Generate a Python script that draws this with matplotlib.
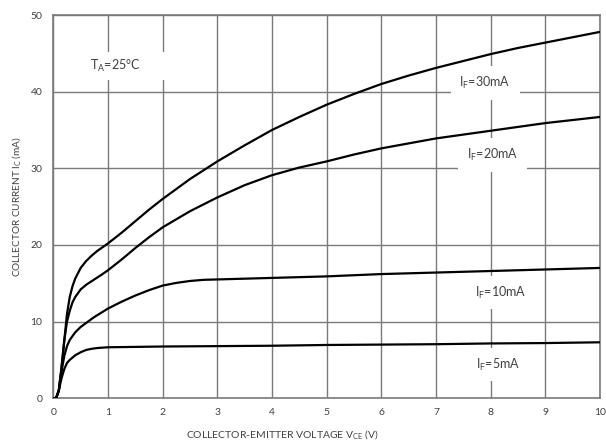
import matplotlib
matplotlib.use("Agg")
import matplotlib.pyplot as plt
from matplotlib.patches import Rectangle

plt.rcParams['font.family'] = ['Lato', 'DejaVu Sans']
plt.rcParams['mathtext.default'] = 'regular'

# collector current curves (V_CE in V, I_C in mA)
v_30 = [0, 0.05, 0.1, 0.15, 0.2, 0.25, 0.3, 0.35, 0.4, 0.5, 0.6, 0.7, 0.8, 0.9, 1.0,
        1.25, 1.5, 1.75, 2.0, 2.5, 3.0, 3.5, 4.0, 4.5, 5.0, 5.5, 6.0, 6.5, 7.0, 7.5,
        8.0, 8.5, 9.0, 9.5, 10.0]
i_30 = [0, 0, 1.0, 4.0, 7.5, 11.0, 13.2, 14.6, 15.6, 17.0, 17.9, 18.6, 19.2, 19.7, 20.2,
        21.6, 23.1, 24.6, 26.0, 28.6, 30.9, 33.0, 35.0, 36.7, 38.3, 39.7, 41.0, 42.1, 43.1, 44.0,
        44.9, 45.7, 46.4, 47.1, 47.8]

v_20 = [0, 0.05, 0.1, 0.15, 0.2, 0.25, 0.3, 0.35, 0.4, 0.5, 0.6, 0.75, 0.9, 1.0, 1.25,
        1.5, 1.75, 2.0, 2.5, 3.0, 3.5, 4.0, 4.5, 5.0, 5.5, 6.0, 7.0, 8.0, 9.0, 10.0]
i_20 = [0, 0, 1.0, 4.0, 7.5, 10.0, 11.4, 12.5, 13.2, 14.2, 14.8, 15.5, 16.2, 16.7, 18.1,
        19.6, 21.0, 22.3, 24.4, 26.2, 27.8, 29.1, 30.1, 30.9, 31.8, 32.6, 33.9, 34.9, 35.9, 36.7]

v_10 = [0, 0.05, 0.1, 0.15, 0.2, 0.25, 0.3, 0.4, 0.5, 0.75, 1.0, 1.25, 1.5, 1.75, 2.0,
        2.25, 2.5, 2.75, 3.0, 3.5, 4.0, 5.0, 6.0, 7.0, 8.0, 9.0, 10.0]
i_10 = [0, 0, 1.0, 3.5, 5.5, 6.8, 7.6, 8.6, 9.3, 10.6, 11.7, 12.6, 13.4, 14.1, 14.7,
        15.05, 15.3, 15.45, 15.5, 15.6, 15.7, 15.9, 16.2, 16.4, 16.6, 16.8, 17.0]

v_5 = [0, 0.05, 0.1, 0.15, 0.2, 0.25, 0.3, 0.4, 0.5, 0.6, 0.7, 0.8, 0.9, 1.0, 2.0,
       3.0, 4.0, 5.0, 6.0, 7.0, 8.0, 9.0, 10.0]
i_5 = [0, 0, 1.0, 2.6, 3.8, 4.6, 5.0, 5.6, 6.0, 6.3, 6.45, 6.55, 6.6, 6.65, 6.75,
       6.8, 6.85, 6.95, 7.0, 7.05, 7.15, 7.2, 7.3]

curve_labels = ['I$_F$=30mA', 'I$_F$=20mA', 'I$_F$=10mA', 'I$_F$=5mA']
label_pos = [(7.9, 41.1), (8.03, 31.7), (8.19, 13.8), (8.14, 4.4)]

x_ticks = list(range(0, 11))
y_ticks = [0, 10, 20, 30, 40, 50]

grid_col = '#7a7a7a'
text_col = '#404040'

fig = plt.figure(figsize=(6.06, 4.42), dpi=100)
ax = fig.add_axes([0.088, 0.099, 0.902, 0.867])

ax.set_xlim(0, 10)
ax.set_ylim(0, 50)
ax.set_xticks(x_ticks)
ax.set_yticks(y_ticks)
ax.grid(True, color=grid_col, linewidth=1.0, zorder=0)
ax.set_axisbelow(True)
for s in ax.spines.values():
    s.set_color(grid_col)
    s.set_linewidth(1.2)
ax.tick_params(length=0, labelsize=7.5, labelcolor=text_col)
ax.tick_params(axis='y', pad=8)
ax.tick_params(axis='x', pad=7)

for v, i in [(v_30, i_30), (v_20, i_20), (v_10, i_10), (v_5, i_5)]:
    ax.plot(v, i, color='black', linewidth=1.6, zorder=3,
            solid_joinstyle='round', solid_capstyle='round')

for lab, (x, y) in zip(curve_labels, label_pos):
    ax.text(x, y, lab, ha='center', va='center', fontsize=9, color=text_col, zorder=4,
            bbox=dict(facecolor='white', edgecolor='none', boxstyle='square,pad=0.7'))

# white panel behind the temperature note
ax.add_patch(Rectangle((0.4, 41.5), 1.7, 3.7, facecolor='white', edgecolor='none', zorder=2))
ax.text(1.13, 43.3, 'T$_A$=25°C', ha='center', va='center', fontsize=9,
        color=text_col, zorder=4)

ax.set_xlabel('COLLECTOR-EMITTER VOLTAGE V$_{CE}$ (V)', fontsize=7.5, color=text_col)
ax.xaxis.set_label_coords(0.419, -0.077)
ax.set_ylabel('COLLECTOR CURRENT I$_C$ (mA)', fontsize=7.2, color=text_col, labelpad=5)

fig.savefig('out.png', dpi=100)
